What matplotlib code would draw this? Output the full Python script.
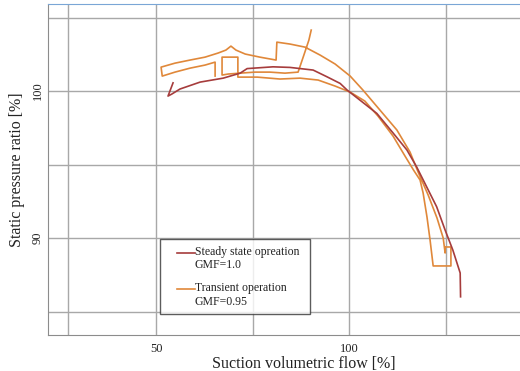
import numpy as np
import matplotlib
matplotlib.use("Agg")
import matplotlib.pyplot as plt
from matplotlib.legend_handler import HandlerLine2D

plt.rcParams['font.family'] = ['Liberation Serif', 'DejaVu Serif']

# steady state operation, GMF = 1.0
steady_flow = [54.4, 53.1, 54.1, 56.2, 61.4, 67.4, 71.8, 73.6, 80.3, 84.7, 90.7, 94.3,
               97.7, 99.5, 102.8, 107.2, 111.5, 115.0, 117.5, 120.1, 122.7, 124.9,
               126.9, 128.8, 128.9]
steady_ratio = [100.56, 99.66, 99.80, 100.14, 100.61, 100.88, 101.22, 101.53, 101.65,
                101.61, 101.43, 100.97, 100.52, 100.07, 99.39, 98.48, 97.12, 95.99,
                94.85, 93.49, 92.13, 90.54, 89.18, 87.62, 86.0]

# transient operation, GMF = 0.95
transient_flow = [90.2, 89.6, 88.3, 86.8, 83.4, 79.5, 75.6, 71.8, 68.7, 67.1, 67.1, 71.2,
                  71.2, 76.2, 82.1, 87.3, 92.0, 96.4, 100.3, 104.1, 107.5, 111.4, 114.5,
                  116.7, 118.4, 119.2, 120.2, 121.0, 121.8, 126.4, 126.4, 124.9, 124.9,
                  124.4, 122.8, 120.5, 117.9, 115.8, 112.4, 108.0, 103.6, 100.3, 96.4,
                  92.5, 88.6, 84.7, 81.3, 81.1, 76.9, 73.1, 70.7, 69.4, 68.1, 66.1, 62.7,
                  58.8, 54.9, 51.3, 51.6, 54.9, 58.8, 62.7, 65.3, 65.3]
transient_ratio = [104.15, 103.47, 102.45, 101.29, 101.22, 101.29, 101.29, 101.22, 101.16,
                   101.09, 102.31, 102.31, 100.95, 100.95, 100.82, 100.88, 100.75, 100.34,
                   99.93, 99.32, 98.30, 96.94, 95.58, 94.63, 93.95, 93.06, 91.43, 89.86,
                   88.10, 88.10, 89.39, 89.39, 88.98, 90.0, 91.36, 92.93, 94.49, 95.85,
                   97.35, 98.71, 100.07, 101.02, 101.84, 102.45, 102.99, 103.20, 103.33,
                   102.11, 102.31, 102.52, 102.79, 103.06, 102.79, 102.59, 102.31, 102.11,
                   101.90, 101.63, 101.02, 101.29, 101.56, 101.77, 101.97, 101.02]

x_grid = [27.2, 50, 75, 100, 125]
x_labels = ['', '50', '', '100', '']
y_grid = [85, 90, 95, 100, 105]
y_labels = ['', '90', '', '100', '']

red = '#a63c3c'
orange = '#e0883a'
text_col = '#222222'


class FirstLineHandler(HandlerLine2D):
    # put the legend line next to the first text line, at the right of the handle box
    def create_artists(self, legend, orig_handle, xdescent, ydescent, width, height,
                       fontsize, trans):
        artists = super().create_artists(legend, orig_handle, xdescent, ydescent,
                                         width, height, fontsize, trans)
        line = artists[0]
        y = line.get_ydata()[0] + 0.5 * fontsize
        line.set_xdata([width - 1.5 * fontsize, width])
        line.set_ydata([y, y])
        return artists


fig = plt.figure(figsize=(5.2, 3.71), dpi=100)
ax = fig.add_axes([0.0923, 0.097, 0.9077, 0.892])

ax.plot(steady_flow, steady_ratio, color=red, lw=1.2,
        label='Steady state opreation\nGMF=1.0', zorder=3)
ax.plot(transient_flow, transient_ratio, color=orange, lw=1.2,
        label='Transient operation\nGMF=0.95', zorder=2)

ax.set_xlim(22.0, 144.3)
ax.set_ylim(83.4, 105.92)
ax.set_xticks(x_grid)
ax.set_xticklabels(x_labels)
ax.set_yticks(y_grid)
ax.set_yticklabels(y_labels)
ax.grid(True, color='#a8a8a8', lw=1.0)
ax.set_axisbelow(True)
ax.tick_params(length=0, labelsize=9, colors=text_col)
ax.tick_params(axis='x', pad=5.5)
ax.tick_params(axis='y', pad=3)
for lbl in ax.get_yticklabels():
    lbl.set_rotation(90)
    lbl.set_va('center')

for side in ['left', 'bottom']:
    ax.spines[side].set_color('#8c8c8c')
ax.spines['top'].set_color('#7aa6d6')
ax.spines['right'].set_visible(False)

ax.set_xlabel('Suction volumetric flow [%]', fontsize=11.5, color=text_col)
ax.set_ylabel('Static pressure ratio [%]', fontsize=11.5, color=text_col)
ax.xaxis.set_label_coords(0.541, -0.062)
ax.yaxis.set_label_coords(-0.049, 0.5)

leg = ax.legend(loc='lower left', bbox_to_anchor=(0.237, 0.063, 0.318, 0.215),
                mode='expand', borderaxespad=0, fontsize=8.5, fancybox=False,
                handlelength=2.4, handletextpad=0.0, labelspacing=0.88,
                borderpad=0.55, handler_map={plt.Line2D: FirstLineHandler()})
leg.get_frame().set_edgecolor('#333333')
leg.get_frame().set_linewidth(1.0)
for t in leg.get_texts():
    t.set_color(text_col)
    t.set_linespacing(1.2)

fig.savefig('out.png', dpi=100)
